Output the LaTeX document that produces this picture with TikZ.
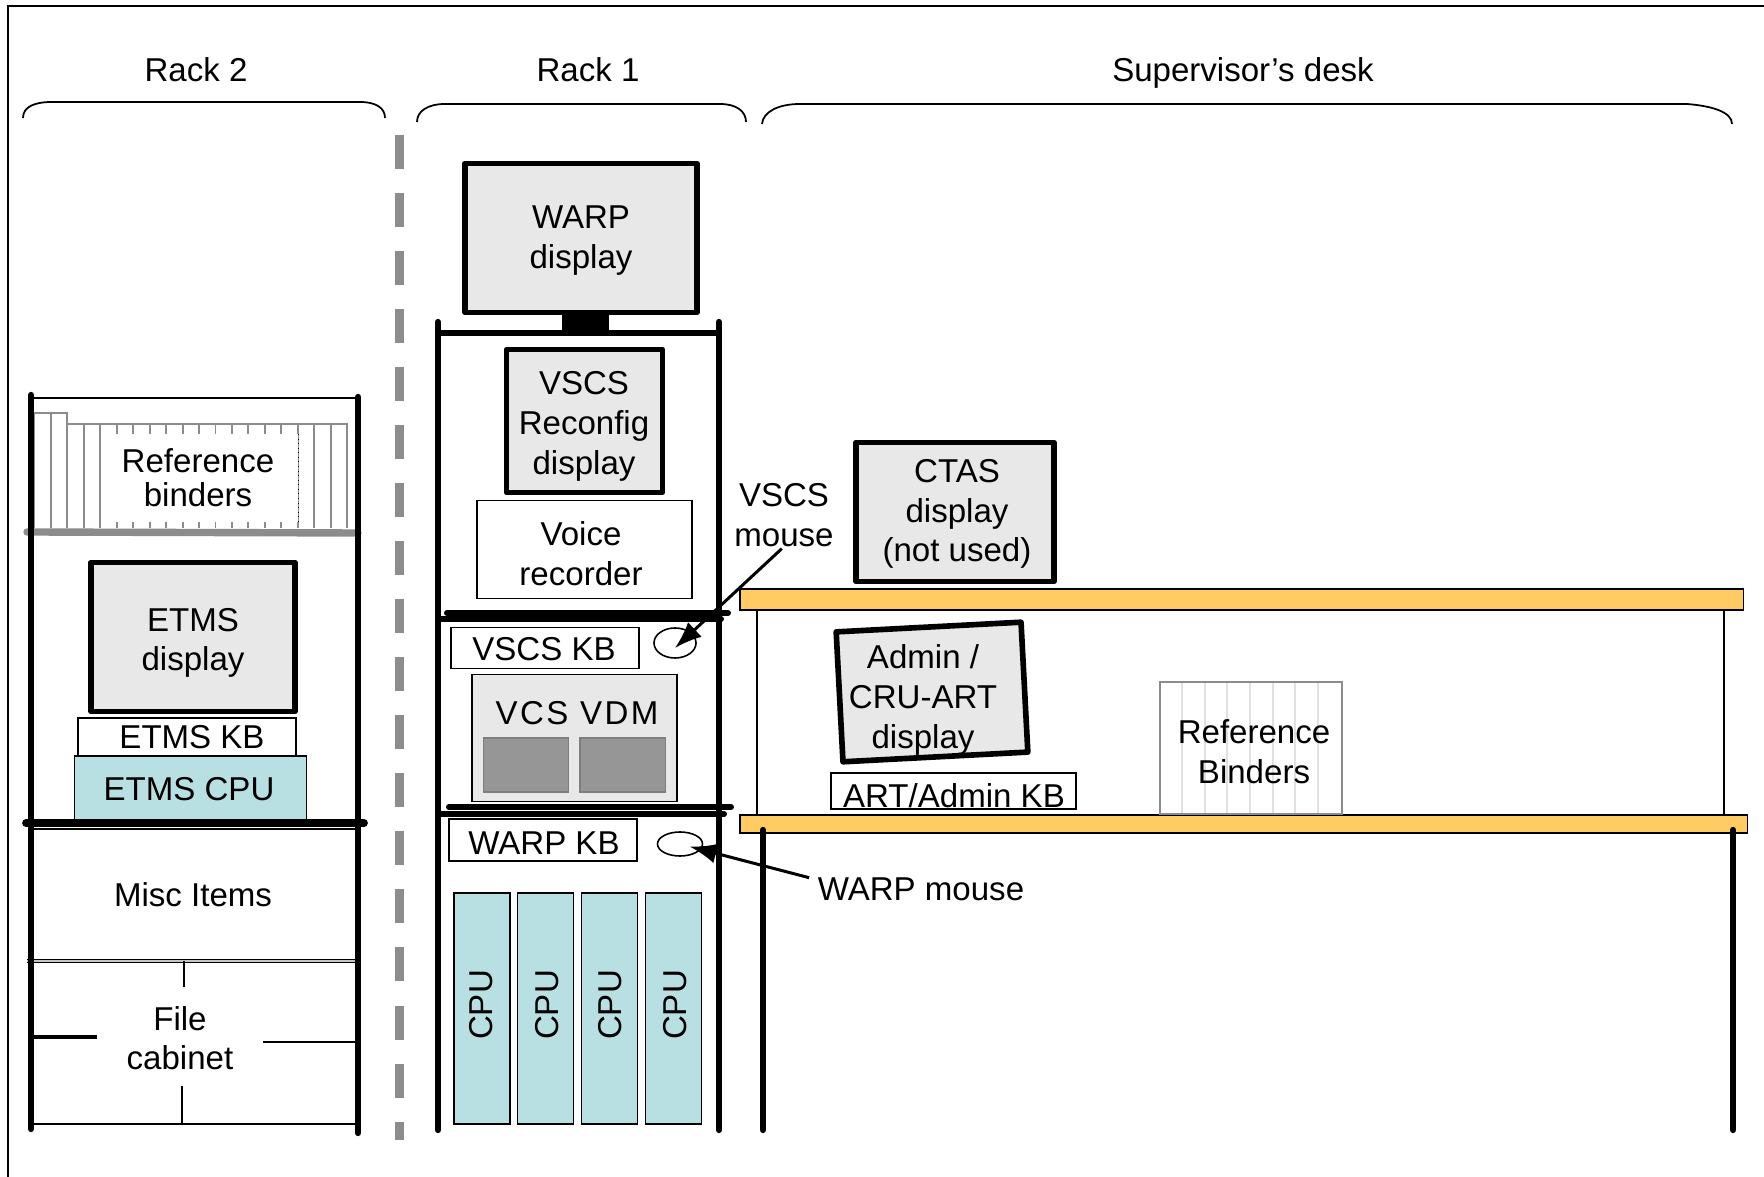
\documentclass[tikz,border=0pt]{standalone}
\usepackage{fontspec}
\setmainfont{Liberation Sans}
\usetikzlibrary{arrows.meta,shapes.geometric}
\definecolor{panel}{HTML}{E8E8E8}
\definecolor{cpublue}{HTML}{B8DFE2}
\definecolor{desktop}{HTML}{FFCB62}
\definecolor{binderline}{HTML}{8C8C8C}
\definecolor{deskline}{HTML}{E0E0E0}
\definecolor{vdmscreen}{HTML}{969696}
\begin{document}
\begin{tikzpicture}[x=0.01cm,y=-0.01cm,
 every node/.style={inner sep=0pt, outer sep=0pt, align=center, font=\fontsize{9.4}{11.3}\selectfont},
 monitor/.style={draw, line width=1.55pt, line join=round, fill=panel},
 thinbox/.style={draw, line width=0.45pt, fill=white},
 cpubox/.style={draw, line width=0.4pt, fill=cpublue},
 post/.style={line width=1.8pt, line cap=round},
 shelf/.style={line width=1.7pt, line cap=round},
 bracket/.style={line width=0.5pt},
 deskboard/.style={draw, line width=0.45pt, fill=desktop},
 pointer/.style={line width=0.85pt, -{Latex[length=0.27cm,width=0.2cm]}}
]
\useasboundingbox (0,0) rectangle (1764,1177);

% page frame
\draw[line width=0.55pt] (8,1177) -- (8,6) -- (1764,6);

% headings and their brackets
\node (racktwo) at (196,70) {Rack 2};
\node (rackone) at (588,70) {Rack 1};
\node (deskhead) at (1243,73) {Supervisor’s desk};
\draw[bracket] (23,118) .. controls (23,107) and (34,102) .. (52,102) -- (360,102) .. controls (376,102) and (385,108) .. (385,118);
\draw[bracket] (417,122) .. controls (417,111) and (428,104) .. (445,104) -- (720,104) .. controls (736,104) and (746,111) .. (746,122);
\draw[bracket] (762,124) .. controls (763,112) and (778,104) .. (800,104) -- (1687,104) .. controls (1712,106) and (1732,112) .. (1732,124);

% divider between the racks
\draw[line width=2.55pt, color=binderline, dash pattern=on 0.34cm off 0.24cm] (399.5,135) -- (399.5,1140);

% rack 2
\draw[line width=0.45pt] (31,398) -- (358,398);
\draw[line width=0.55pt, color=binderline] (34,528) -- (34,413) -- (67,413) -- (67,424) -- (347,424) -- (347,528);
\foreach \x in {51,67.45,...,340} {
 \draw[line width=0.55pt, color=binderline] (\x,424) -- (\x,528);
}
\draw[line width=0.55pt, color=binderline] (51,413) -- (51,424);
\node (rackbinders) at (199.7,478) [fill=white, minimum width=1.97cm, minimum height=0.88cm] {};
\node at (198,478) [font=\fontsize{9.4}{9.65}\selectfont] {Reference\\binders};
\draw[densely dotted, line width=0.3pt] (rackbinders.north east) -- (rackbinders.south east);
\draw[line width=2.1pt, line cap=round, color=binderline] (27,532) -- (358,533);

\node (etmsdisplay) at (193,637) [monitor, minimum width=2.04cm, minimum height=1.49cm] {};
\node at (193,643) {ETMS\\display};
\node (etmskb) at (187,737.5) [thinbox, minimum width=2.18cm, minimum height=0.39cm] {\hspace{0.1cm}ETMS KB};
\node (etmscpu) at (190.5,789) [cpubox, minimum width=2.32cm, minimum height=0.66cm] {\hspace{-0.03cm}ETMS CPU};
\draw[shelf, line width=2.2pt] (26,823) -- (364,823);
\draw[line width=0.3pt] (31,829) -- (358,829);
\node (misc) at (193,895) {Misc Items};
\draw[line width=0.3pt, double=binderline!50, double distance=0.4pt] (27,961) -- (358,961);

% file cabinet, its lines stop short of the label
\node (cabinet) at (180,1038) [minimum width=1.6cm, font=\fontsize{9.4}{11.05}\selectfont] {File\\cabinet};
\draw[line width=0.6pt] (184,961) -- (184,987);
\draw[line width=0.6pt] (182,1086) -- (182,1124);
\draw[line width=0.9pt] (31,1037) -- (97,1037);
\draw[line width=0.6pt] (263,1042) -- (358,1042);
\draw[line width=0.45pt] (31,1124) -- (358,1124);

\draw[post] (31,395) -- (31,1129);
\draw[post] (358,397) -- (358,1133);

% rack 1
\node (warpdisplay) at (581,238) [monitor, minimum width=2.32cm, minimum height=1.49cm] {};
\node at (581,240.5) {WARP\\display};
\fill (562,315) rectangle (609,333);
\draw[post] (438,322) -- (438,1130);
\draw[post] (719,322) -- (719,1130);
\draw[line width=1.45pt] (438,333) -- (719,333);

\node (reconfig) at (584.4,421) [monitor, line width=1.45pt, minimum width=1.56cm, minimum height=1.43cm] {};
\node at (584,426.5) {VSCS\\Reconfig\\display};
\node (recorder) at (584.5,549.5) [thinbox, minimum width=2.15cm, minimum height=0.98cm] {};
\node at (581,554) {Voice\\recorder};
\draw[shelf] (447,613) -- (728,613);
\draw[shelf] (440,619) -- (721,619);

\node (vscskb) at (545,648) [thinbox, minimum width=1.88cm, minimum height=0.41cm] {};
\node at (544,649) {VSCS KB};
\node (vscsmouse) at (675,643) [ellipse, thinbox, minimum width=0.42cm, minimum height=0.30cm] {};

\node (vdm) at (574.5,738) [thinbox, fill=panel, minimum width=2.05cm, minimum height=1.27cm] {};
\node (vdmtext) at (577,713) {\addfontfeature{LetterSpace=7.5}VCS VDM};
\foreach \x [count=\y] in {526,622.5} {
 \node (screen\y) at (\x,765) [draw=binderline!90!black, line width=0.3pt, fill=vdmscreen, minimum width=0.85cm, minimum height=0.54cm] {};
}
\draw[shelf] (449,807) -- (731,807);
\draw[shelf] (440,814) -- (724,814);

\node (warpkb) at (543,840) [thinbox, minimum width=1.88cm, minimum height=0.42cm] {};
\node at (544,843) {WARP KB};
\node (warpmouse) at (680,844) [ellipse, thinbox, minimum width=0.45cm, minimum height=0.24cm] {};

\foreach \x/\t [count=\y] in {482/481,545.5/547,609.5/610,673.5/675} {
 \node (cpu\y) at (\x,1008.5) [cpubox, minimum width=0.56cm, minimum height=2.31cm] {};
 \node at (\t,1005) [rotate=90] {CPU};
}

% supervisor's desk
\draw[line width=0.35pt] (757,610) -- (757,815);
\draw[line width=0.35pt] (1724,610) -- (1724,815);
\node (deskupper) at (1241.5,599.5) [deskboard, minimum width=10.03cm, minimum height=0.21cm] {};
\node (desklower) at (1243.5,824) [deskboard, minimum width=10.07cm, minimum height=0.18cm] {};
\draw[post] (763,830) -- (763,1130);
\draw[post] (1733,830) -- (1733,1130);

\node (ctas) at (955,512) [monitor, minimum width=1.98cm, minimum height=1.39cm] {};
\node at (957,514) {CTAS\\display\\(not used)};
\node (admin) at (932,692) [monitor, line width=1.6pt, rotate=3, minimum width=1.85cm, minimum height=1.30cm] {};
\node (admintext) at (923,700) {Admin /\\CRU-ART\\display};
\node (artkb) at (953.5,791) [thinbox, minimum width=2.45cm, minimum height=0.36cm] {};
\node (arttext) at (954,796) {ART/Admin KB};

\node (deskbinders) at (1251,748) [draw=binderline, line width=0.55pt, fill=white, minimum width=1.82cm, minimum height=1.32cm] {};
\foreach \x in {1182,1205,1227,1250,1273,1295,1318} {
 \draw[line width=0.5pt, color=deskline] (\x,683) -- (\x,813);
}
\node (binderstext) at (1254,752) {Reference\\Binders};

% mouse call-outs
\node (vscslabel) at (784,515) {VSCS\\mouse};
\node (warplabel) at (921,889) {WARP mouse};
\draw[pointer, shorten <=0.03cm] (vscslabel.south) -- ([yshift=-0.05cm]vscsmouse.center);
\draw[pointer, shorten <=0.09cm, shorten >=0.1cm] (warplabel.175) -- (warpmouse.center);
\end{tikzpicture}
\end{document}
